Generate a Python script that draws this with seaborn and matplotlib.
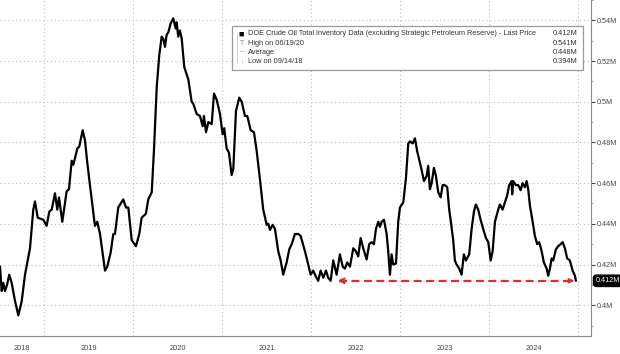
import matplotlib
matplotlib.use("Agg")
import matplotlib.pyplot as plt
import matplotlib.transforms as mtransforms
from matplotlib.patches import Rectangle
import pandas as pd
import seaborn as sns

# weekly-ish inventory readings (decimal year, value in "M")
years = [
    2018.506, 2018.525, 2018.543, 2018.562, 2018.585, 2018.610, 2018.637, 2018.675, 2018.712, 2018.750,
    2018.787, 2018.843, 2018.880, 2018.899, 2018.930, 2018.993, 2019.030, 2019.060, 2019.087, 2019.124,
    2019.150, 2019.169, 2019.206, 2019.255, 2019.281, 2019.312, 2019.330, 2019.375, 2019.397, 2019.435,
    2019.461, 2019.487, 2019.517, 2019.573, 2019.599, 2019.630, 2019.686, 2019.712, 2019.750, 2019.779,
    2019.798, 2019.835, 2019.891, 2019.922, 2019.948, 2019.986, 2020.034, 2020.071, 2020.098, 2020.146,
    2020.172, 2020.211, 2020.236, 2020.267, 2020.296, 2020.323, 2020.341, 2020.360, 2020.379, 2020.397,
    2020.424, 2020.453, 2020.480, 2020.491, 2020.509, 2020.528, 2020.548, 2020.577, 2020.622, 2020.660,
    2020.678, 2020.716, 2020.753, 2020.784, 2020.798, 2020.821, 2020.847, 2020.885, 2020.911, 2020.941,
    2020.978, 2021.008, 2021.026, 2021.053, 2021.079, 2021.109, 2021.128, 2021.158, 2021.195, 2021.222,
    2021.259, 2021.285, 2021.323, 2021.360, 2021.390, 2021.427, 2021.464, 2021.503, 2021.521, 2021.540,
    2021.570, 2021.596, 2021.633, 2021.660, 2021.689, 2021.727, 2021.757, 2021.784, 2021.821, 2021.858,
    2021.885, 2021.933, 2021.970, 2021.997, 2022.026, 2022.057, 2022.082, 2022.109, 2022.139, 2022.169,
    2022.195, 2022.222, 2022.251, 2022.289, 2022.326, 2022.357, 2022.382, 2022.408, 2022.439, 2022.476,
    2022.506, 2022.532, 2022.559, 2022.588, 2022.626, 2022.655, 2022.682, 2022.708, 2022.731, 2022.757,
    2022.776, 2022.795, 2022.821, 2022.851, 2022.869, 2022.888, 2022.907, 2022.925, 2022.956, 2022.981,
    2023.000, 2023.038, 2023.068, 2023.094, 2023.113, 2023.143, 2023.169, 2023.195, 2023.217, 2023.244,
    2023.270, 2023.300, 2023.318, 2023.337, 2023.357, 2023.382, 2023.405, 2023.431, 2023.458, 2023.480,
    2023.506, 2023.532, 2023.554, 2023.573, 2023.599, 2023.618, 2023.637, 2023.667, 2023.693, 2023.719,
    2023.742, 2023.779, 2023.806, 2023.832, 2023.854, 2023.880, 2023.907, 2023.936, 2023.967, 2023.993,
    2024.020, 2024.042, 2024.068, 2024.105, 2024.124, 2024.154, 2024.180, 2024.206, 2024.228, 2024.255,
    2024.262, 2024.273, 2024.304, 2024.330, 2024.357, 2024.379, 2024.405, 2024.424, 2024.442, 2024.461,
    2024.492, 2024.517, 2024.543, 2024.566, 2024.593, 2024.618, 2024.649, 2024.667, 2024.686, 2024.705,
    2024.723, 2024.753, 2024.779, 2024.806, 2024.829, 2024.854, 2024.880, 2024.910, 2024.941, 2024.967,
    2024.978,
]
inventory = [
    0.419, 0.407, 0.411, 0.407, 0.410, 0.415, 0.411, 0.402, 0.395, 0.402,
    0.415, 0.428, 0.447, 0.451, 0.443, 0.442, 0.439, 0.446, 0.447, 0.455,
    0.447, 0.453, 0.441, 0.456, 0.457, 0.471, 0.469, 0.477, 0.478, 0.486,
    0.481, 0.470, 0.459, 0.439, 0.441, 0.435, 0.417, 0.419, 0.426, 0.435,
    0.435, 0.448, 0.452, 0.448, 0.448, 0.432, 0.429, 0.435, 0.443, 0.445,
    0.452, 0.4555, 0.476, 0.507, 0.523, 0.532, 0.531, 0.527, 0.533, 0.534,
    0.5385, 0.541, 0.536, 0.539, 0.532, 0.535, 0.531, 0.517, 0.511, 0.500,
    0.499, 0.494, 0.493, 0.488, 0.493, 0.485, 0.490, 0.489, 0.504, 0.501,
    0.494, 0.484, 0.487, 0.477, 0.475, 0.464, 0.467, 0.4955, 0.502, 0.500,
    0.493, 0.493, 0.486, 0.485, 0.476, 0.462, 0.447, 0.4395, 0.440, 0.437,
    0.4395, 0.4375, 0.4265, 0.422, 0.415, 0.421, 0.4275, 0.430, 0.435, 0.435,
    0.434, 0.4265, 0.420, 0.415, 0.417, 0.414, 0.412, 0.417, 0.4135, 0.417,
    0.4135, 0.412, 0.422, 0.415, 0.425, 0.419, 0.418, 0.421, 0.419, 0.428,
    0.4265, 0.424, 0.433, 0.428, 0.4225, 0.430, 0.431, 0.430, 0.4375, 0.441,
    0.4385, 0.441, 0.442, 0.435, 0.4265, 0.415, 0.425, 0.420, 0.4205, 0.441,
    0.448, 0.4505, 0.4625, 0.4795, 0.4805, 0.4795, 0.482, 0.4755, 0.4715, 0.4665,
    0.461, 0.4635, 0.4685, 0.457, 0.460, 0.4675, 0.4635, 0.4555, 0.453, 0.459,
    0.459, 0.458, 0.447, 0.441, 0.432, 0.422, 0.420, 0.418, 0.415, 0.425,
    0.422, 0.425, 0.4375, 0.446, 0.4495, 0.447, 0.442, 0.4375, 0.433, 0.431,
    0.422, 0.4265, 0.441, 0.447, 0.4495, 0.447, 0.4505, 0.454, 0.459, 0.461,
    0.4545, 0.461, 0.459, 0.459, 0.4565, 0.460, 0.458, 0.461, 0.457, 0.449,
    0.441, 0.434, 0.430, 0.431, 0.4265, 0.421, 0.418, 0.4145, 0.418, 0.423,
    0.422, 0.4275, 0.429, 0.430, 0.431, 0.428, 0.423, 0.422, 0.417, 0.4145,
    0.412,
]

year_labels = ["2018", "2019", "2020", "2021", "2022", "2023", "2024"]
y_ticks = [0.40, 0.42, 0.44, 0.46, 0.48, 0.50, 0.52, 0.54]

legend_names = ["DOE Crude Oil Total Inventory Data (excluding Strategic Petroleum Reserve) - Last Price",
                "High on 06/19/20", "Average", "Low on 09/14/18"]
legend_values = ["0.412M", "0.541M", "0.448M", "0.394M"]
legend_marks = ["\u25A0", "T", "\u2013", "\u2193"]

last_price = 0.412
arrow_from, arrow_to = 2024.99, 2022.27

sns.set_style("white")
plt.rcParams["font.family"] = ["Liberation Sans", "DejaVu Sans"]

df = pd.DataFrame({"year": years, "inventory": inventory})

fig = plt.figure(figsize=(6.2, 3.54), dpi=100)
ax = fig.add_axes([0, 0.051, 0.953, 0.949])

sns.lineplot(data=df, x="year", y="inventory", color="black", lw=1.6, ax=ax)

xmin, xmax = 2018.506, 2025.146
ax.set_xlim(xmin, xmax)
ax.set_ylim(0.3849, 0.5472)
ax.set_xlabel("")
ax.set_ylabel("")

for s in ["left", "top"]:
    ax.spines[s].set_visible(False)
for s in ["right", "bottom"]:
    ax.spines[s].set_color("#888888")
    ax.spines[s].set_linewidth(0.8)

# y axis on the right
ax.yaxis.tick_right()
ax.set_yticks(y_ticks)
ax.set_yticklabels([f"{v:g}M" for v in y_ticks])
ax.set_yticks([v + 0.01 for v in [0.38] + y_ticks], minor=True)
ax.tick_params(axis="y", which="major", length=3, width=0.8, color="#444444",
               labelsize=5.2, labelcolor="#444444", pad=1.5)
ax.tick_params(axis="y", which="minor", length=1.5, width=0.6, color="#999999")

# x axis: long separators at year starts, short quarter ticks
year_starts = list(range(2019, 2026))
ax.set_xticks(year_starts)
ax.set_xticklabels([""] * len(year_starts))
ax.set_xticks([y + q for y in range(2018, 2026) for q in (0.25, 0.5, 0.75)
               if xmin < y + q < xmax], minor=True)
ax.tick_params(axis="x", which="major", length=13, width=0.8, color="#888888")
ax.tick_params(axis="x", which="minor", length=2, width=0.6, color="#888888")

trans = mtransforms.blended_transform_factory(ax.transData, ax.transAxes)
for lab in year_labels:
    lo = max(int(lab), xmin)
    hi = int(lab) + 1
    ax.text((lo + hi) / 2, -0.038, lab, transform=trans, ha="center", va="center",
            fontsize=5.3, color="#444444", clip_on=False)

ax.grid(which="major", ls=(0, (1, 2.5)), color="#bbbbbb", lw=0.8)

# red dashed arrow at last price level
red = "#d8322b"
ax.plot([arrow_to + 0.05, arrow_from - 0.03], [last_price, last_price], color=red,
        lw=1.6, ls=(0, (3.6, 2.0)))
ax.annotate("", xy=(arrow_to, last_price), xytext=(arrow_to + 0.12, last_price),
            arrowprops=dict(arrowstyle="->", color=red, lw=1.6, mutation_scale=8))
ax.annotate("", xy=(arrow_from, last_price), xytext=(arrow_from - 0.1, last_price),
            arrowprops=dict(arrowstyle="-|>", color=red, lw=1.2, mutation_scale=7))

# last price tag
ytrans = mtransforms.blended_transform_factory(ax.transAxes, ax.transData)
ax.text(1.008, last_price, f"{last_price:g}M", transform=ytrans, ha="left", va="center",
        fontsize=5.2, color="white", clip_on=False,
        bbox=dict(boxstyle="round,pad=0.3,rounding_size=0.4", fc="black", ec="black"))

# legend box
ax.add_patch(Rectangle((0.3926, 0.7917), 0.5939, 0.1309, transform=ax.transAxes,
                       fc="white", ec="#999999", lw=0.9, zorder=5))
ax.plot([0.401, 0.401], [0.815, 0.900], transform=ax.transAxes, color="#bbbbbb",
        lw=0.5, zorder=6)
rows = [0.899, 0.872, 0.845, 0.818]
for mark, name, val, ry in zip(legend_marks, legend_names, legend_values, rows):
    ax.text(0.409, ry, mark, transform=ax.transAxes, ha="center", va="center",
            fontsize=6.5 if mark == "\u25A0" else 5,
            color="black" if mark == "\u25A0" else "#888888", zorder=6)
    ax.text(0.419, ry, name, transform=ax.transAxes, ha="left", va="center",
            fontsize=5.3, color="#333333", zorder=6)
    ax.text(0.978, ry, val, transform=ax.transAxes, ha="right", va="center",
            fontsize=5.3, color="#333333", zorder=6)

fig.savefig("out.png", dpi=100)
